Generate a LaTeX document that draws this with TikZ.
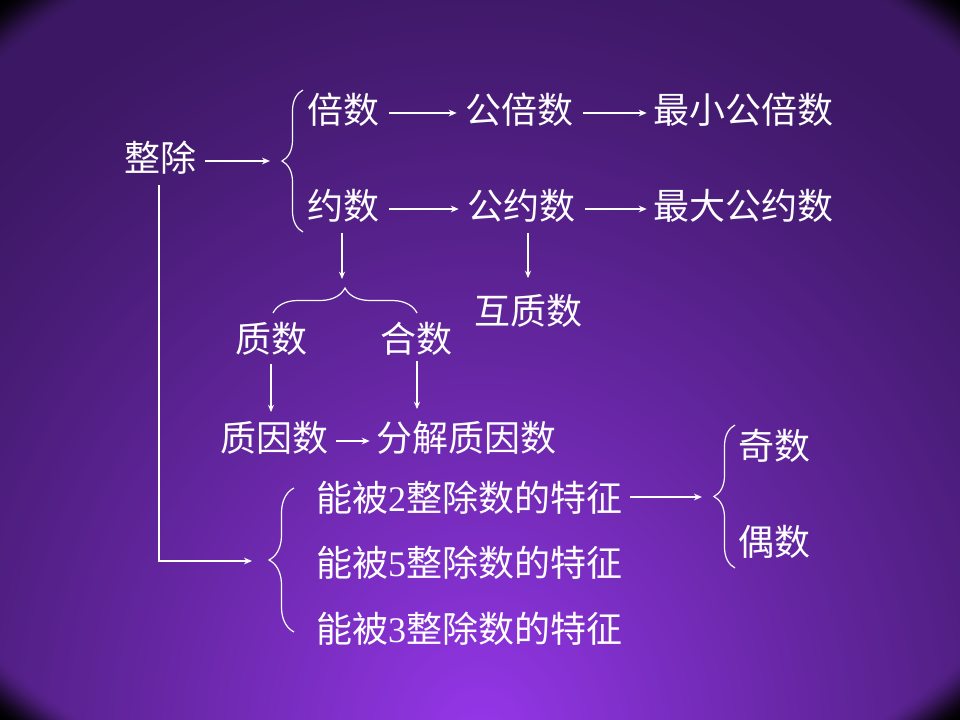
\documentclass[tikz,border=0pt]{standalone}
\usepackage{fontspec}
\setmainfont{Liberation Serif}
\newfontfamily\cjk{Noto Sans CJK SC}
\usetikzlibrary{arrows.meta,decorations.pathreplacing,calc}
\pgfdeclarefunctionalshading{bgshade}{\pgfpoint{-50bp}{-50bp}}{\pgfpoint{50bp}{50bp}}{}{
 25 add 14.4 mul exch 25 add 19.2 mul exch
 2 copy 360 div 1 sub dup mul exch 480 div 1 sub dup mul add sqrt
 1.414 exch sub 0.12 div dup 1 gt {pop 1} if dup 0 lt {pop 0} if
 dup dup mul exch 2 mul 3 exch sub mul
 3 1 roll
 20 add dup mul exch 480 sub dup mul 1.3 mul add sqrt 800 div
 1 exch sub dup 0 lt {pop 0} if dup 0.2 exp mul
 dup 90 mul 60 add 255 div 2 index mul
 exch
 dup 31 mul 24 add 255 div 3 index mul
 exch
 135 mul 100 add 255 div 3 index mul
 4 -1 roll pop
}
\begin{document}
\begin{tikzpicture}[x=0.75pt,y=-0.75pt,
  txt/.style={text=white,inner sep=0pt,font=\fontsize{27pt}{30pt}\selectfont\cjk},
  harr/.style={white,line width=1.5pt,-{Stealth[length=6pt,width=5pt]}},
  varr/.style={white,line width=0.9pt,-{Stealth[length=5.5pt,width=4.5pt]}},
  mline/.style={white,line width=1pt,-{Stealth[length=6pt,width=5pt]}},
  brc/.style={white,line width=0.9pt,decorate,decoration={brace,amplitude=#1}}]
\shade[shading=bgshade] (0,0) rectangle (960,720);
\useasboundingbox (0,0) rectangle (960,720);

% nodes
\node[txt] (zc) at (160,158) {整除};
\node[txt] (bs) at (343,110) {倍数};
\node[txt] (gbs) at (519,110) {公倍数};
\node[txt] (zx) at (743,110) {最小公倍数};
\node[txt] (ys) at (343,206) {约数};
\node[txt] (gys) at (521,206) {公约数};
\node[txt] (zd) at (743,206) {最大公约数};
\node[txt] (zs) at (271,339) {质数};
\node[txt] (hs) at (416,339) {合数};
\node[txt] (hz) at (528,311) {互质数};
\node[txt] (zys) at (274,438) {质因数};
\node[txt] (fj) at (466,438) {分解质因数};
\node[txt] (n2) at (469,498) {能被{\rmfamily 2}整除数的特征};
\node[txt] (n5) at (469,563) {能被{\rmfamily 5}整除数的特征};
\node[txt] (n3) at (469,629) {能被{\rmfamily 3}整除数的特征};
\node[txt] (js) at (774,446) {奇数};
\node[txt] (os) at (774,542) {偶数};

% braces
\coordinate (b1a) at (303,232); \coordinate (b1b) at (303,90);
\coordinate (b1tip) at (282,161);
\draw[brc=15.75pt] (b1a) -- (b1b);
\coordinate (b2a) at (273,313); \coordinate (b2b) at (417,313);
\coordinate (b2tip) at (344,288);
\draw[brc=18.75pt] (b2a) -- (b2b);
\coordinate (b3a) at (294,632); \coordinate (b3b) at (294,488);
\coordinate (b3tip) at (269,561);
\draw[brc=18.75pt] (b3a) -- (b3b);
\coordinate (b4a) at (735,568); \coordinate (b4b) at (735,425);
\coordinate (b4tip) at (714,497);
\draw[brc=15.75pt] (b4a) -- (b4b);

% horizontal arrows
\draw[harr] ($(zc.east)+(9,3)$) -- ($(b1tip)+(-12,0)$);
\draw[harr] ($(bs.east)+(10,3)$) -- ($(gbs.west)+(-8,3)$);
\draw[harr] ($(gbs.east)+(10,3)$) -- ($(zx.west)+(-6,3)$);
\draw[harr] ($(ys.east)+(10,3)$) -- ($(gys.west)+(-8,3)$);
\draw[harr] ($(gys.east)+(10,3)$) -- ($(zd.west)+(-6,3)$);
\draw[harr] ($(zys.east)+(8,3)$) -- ($(fj.west)+(-6,3)$);
\draw[harr] ($(n2.east)+(8,-1)$) -- ($(b4tip)+(-12,0)$);

% vertical arrows
\coordinate (ysA) at ($(ys.south)+(-1,10)$);
\draw[varr] (ysA) -- ($(b2tip)+(-2,-9)$);
\coordinate (gysA) at ($(gys.south)+(7,10)$);
\coordinate (hzT) at ($(hz.north)+(0,-16)$);
\draw[varr] (gysA) -- (gysA |- hzT);
\coordinate (zsA) at ($(zs.south)+(0,8)$);
\coordinate (zysT) at ($(zys.north)+(0,-9)$);
\draw[varr] (zsA) -- (zsA |- zysT);
\coordinate (hsA) at ($(hs.south)+(1,5)$);
\coordinate (fjT) at ($(fj.north)+(0,-12)$);
\draw[varr] (hsA) -- (hsA |- fjT);

% main line
\coordinate (zcA) at ($(zc.south)+(-1,10)$);
\coordinate (mEnd) at ($(b3tip)+(-17,0)$);
\draw[mline] (zcA) |- (mEnd);
\end{tikzpicture}
\end{document}
